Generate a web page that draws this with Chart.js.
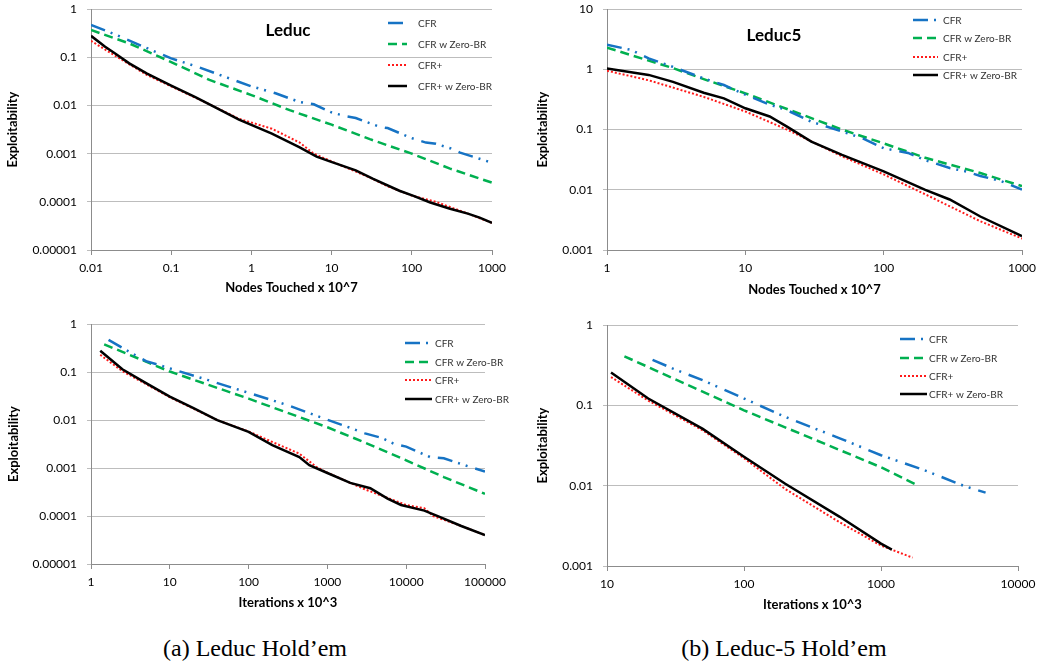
<!DOCTYPE html>
<html>
<head>
<meta charset="utf-8">
<script src="https://cdn.jsdelivr.net/npm/chart.js@4.4.0/dist/chart.umd.min.js"></script>
<style>
  html, body { margin: 0; padding: 0; background: #fff; width: 1039px; height: 665px; overflow: hidden; position: relative; }
  canvas { position: absolute; }
  .cap { position: absolute; font-family: "Liberation Serif", "Times New Roman", serif; font-size: 24px; color: #000;
         transform: translate(-50%, -50%); white-space: nowrap; }
</style>
</head>
<body>
<canvas id="tl"></canvas>
<canvas id="tr"></canvas>
<canvas id="bl"></canvas>
<canvas id="br"></canvas>
<div class="cap" style="left:255px; top:648px">(a) Leduc Hold’em</div>
<div class="cap" style="left:784px; top:648px">(b) Leduc-5 Hold’em</div>
<script>
// series names (legend order)
const seriesNames = ["CFR", "CFR w Zero-BR", "CFR+", "CFR+ w Zero-BR"];

// --- Leduc, nodes touched x 10^7 ---
const tlCfrX = [0.01, 0.02, 0.05, 0.1, 0.2, 0.5, 1, 2, 4, 6, 10, 15, 20, 40, 50, 100, 150, 200, 300, 400, 1000];
const tlCfrY = [0.47, 0.30, 0.155, 0.095, 0.066, 0.038, 0.025, 0.018, 0.0118, 0.0106, 0.0072, 0.0060, 0.0055, 0.0036, 0.0034, 0.0021, 0.0017, 0.0016, 0.0013, 0.00105, 0.00065];
const tlZbrX = [0.01, 0.03, 0.1, 0.3, 1, 3, 10, 30, 100, 300, 1000];
const tlZbrY = [0.37, 0.195, 0.08, 0.034, 0.0165, 0.008, 0.004, 0.002, 0.001, 0.00049, 0.00025];
const tlPlusX = [0.01, 0.02, 0.05, 0.1, 0.3, 0.7, 1.8, 4, 6, 10, 30, 50, 100, 200, 500, 1000];
const tlPlusY = [0.22, 0.108, 0.043, 0.025, 0.0106, 0.0053, 0.0033, 0.0017, 0.001, 0.00069, 0.00032, 0.00021, 0.000135, 0.0001, 0.000057, 0.0000365];
const tlPlusZX = [0.01, 0.015, 0.02, 0.03, 0.05, 0.1, 0.2, 0.3, 0.7, 1.8, 4, 6.5, 9.5, 20, 33, 70, 105, 170, 300, 500, 700, 1000];
const tlPlusZY = [0.28, 0.166, 0.12, 0.075, 0.046, 0.026, 0.015, 0.0106, 0.0051, 0.0026, 0.00135, 0.00087, 0.00069, 0.00045, 0.0003, 0.00017, 0.000133, 0.000097, 0.000072, 0.000057, 0.000047, 0.0000365];

// --- Leduc5, nodes touched x 10^7 ---
const trCfrX = [1, 1.5, 2, 3, 5, 7, 10, 15, 20, 30, 50, 70, 100, 150, 200, 300, 400, 500, 700, 1000];
const trCfrY = [2.57, 2.1, 1.52, 1.1, 0.71, 0.55, 0.38, 0.26, 0.21, 0.135, 0.093, 0.072, 0.049, 0.041, 0.031, 0.023, 0.020, 0.017, 0.014, 0.0101];
const trZbrX = [1, 2, 3, 5, 10, 20, 50, 100, 200, 500, 1000];
const trZbrY = [2.3, 1.4, 1.05, 0.69, 0.40, 0.22, 0.10, 0.059, 0.034, 0.019, 0.0115];
const trPlusX = [1, 2, 5, 10, 20, 50, 100, 200, 500, 1000];
const trPlusY = [0.95, 0.66, 0.35, 0.2, 0.1, 0.036, 0.018, 0.0084, 0.003, 0.00155];
const trPlusZX = [1, 2, 3, 5, 7, 10, 15, 20, 30, 50, 100, 200, 300, 500, 1000];
const trPlusZY = [1.04, 0.81, 0.62, 0.41, 0.33, 0.226, 0.165, 0.112, 0.063, 0.038, 0.0203, 0.01, 0.0069, 0.0036, 0.0017];

// --- Leduc, iterations x 10^3 ---
const blCfrX = [1.67, 3, 5, 10, 30, 100, 300, 1000, 2000, 3000, 5000, 7000, 10000, 20000, 30000, 60000, 100000];
const blCfrY = [0.47, 0.27, 0.17, 0.12, 0.069, 0.037, 0.021, 0.0102, 0.0068, 0.0053, 0.0042, 0.0032, 0.0028, 0.0017, 0.0016, 0.0011, 0.00085];
const blZbrX = [1.47, 10, 100, 1000, 3000, 10000, 30000, 100000];
const blZbrY = [0.38, 0.103, 0.028, 0.0071, 0.0034, 0.00145, 0.00065, 0.00029];
const blPlusX = [1.31, 2.5, 10, 40, 100, 200, 440, 730, 1000, 3000, 10000, 17000, 22000, 50000, 100000];
const blPlusY = [0.23, 0.105, 0.03, 0.01, 0.0058, 0.0035, 0.002, 0.00105, 0.0008, 0.00036, 0.00017, 0.000145, 0.0001, 0.000062, 0.00004];
const blPlusZX = [1.31, 2.5, 5, 10, 20, 40, 100, 200, 440, 590, 1000, 1950, 3500, 5800, 8600, 17000, 27000, 50000, 100000];
const blPlusZY = [0.28, 0.115, 0.059, 0.031, 0.0177, 0.01, 0.0057, 0.003, 0.0017, 0.00115, 0.00079, 0.00049, 0.00038, 0.00023, 0.00017, 0.00013, 0.000095, 0.000062, 0.00004];

// --- Leduc5, iterations x 10^3 ---
const brCfrX = [21.5, 30, 50, 100, 200, 500, 1000, 2000, 4000, 5800];
const brCfrY = [0.37, 0.29, 0.206, 0.122, 0.072, 0.039, 0.024, 0.016, 0.01, 0.0082];
const brZbrX = [13.4, 30, 100, 300, 1000, 1795];
const brZbrY = [0.41, 0.22, 0.087, 0.04, 0.017, 0.0104];
const brPlusX = [10.7, 20, 50, 100, 200, 500, 1000, 1700];
const brPlusY = [0.226, 0.115, 0.049, 0.022, 0.0091, 0.0035, 0.0018, 0.00127];
const brPlusZX = [10.7, 20, 50, 100, 200, 500, 1000, 1200];
const brPlusZY = [0.257, 0.122, 0.051, 0.023, 0.0106, 0.0041, 0.0019, 0.0016];

// tick values and labels
const nodesTicksA = [0.01, 0.1, 1, 10, 100, 1000];
const nodesLabelsA = ["0.01", "0.1", "1", "10", "100", "1000"];
const nodesTicksB = [1, 10, 100, 1000];
const nodesLabelsB = ["1", "10", "100", "1000"];
const itersTicksA = [1, 10, 100, 1000, 10000, 100000];
const itersLabelsA = ["1", "10", "100", "1000", "10000", "100000"];
const itersTicksB = [10, 100, 1000, 10000];
const itersLabelsB = ["10", "100", "1000", "10000"];
const exploitTicks5 = [0.00001, 0.0001, 0.001, 0.01, 0.1, 1];
const exploitLabels5 = ["0.00001", "0.0001", "0.001", "0.01", "0.1", "1"];
const exploitTicksTR = [0.001, 0.01, 0.1, 1, 10];
const exploitLabelsTR = ["0.001", "0.01", "0.1", "1", "10"];
const exploitTicksBR = [0.001, 0.01, 0.1, 1];
const exploitLabelsBR = ["0.001", "0.01", "0.1", "1"];

// line styles per series
const seriesStyle = [
  { color: "#1673c4", width: 2.5, dash: [15, 6, 2, 6, 2, 8], order: 1 },
  { color: "#00b050", width: 2.5, dash: [9, 5], order: 2 },
  { color: "#ff1a1a", width: 2, dash: [2, 2], order: 3 },
  { color: "#000000", width: 2.5, dash: [], order: 0 }
];

const FONT = "Lato, 'Open Sans', sans-serif";
// y axis width, x axis height, space Chart.js reserves above the plot (half label + tick padding), right pad
const YW = 88, XH = 50, TOPOFF = 17.2, PR = 30;

function zip(xs, ys) {
  return xs.map((x, i) => ({ x: x, y: ys[i] }));
}

// inside-the-plot legend and panel title
const panelDecor = {
  id: "panelDecor",
  afterDraw(chart, args, o) {
    const ctx = chart.ctx;
    ctx.save();
    if (o.title) {
      ctx.font = "bold 17px " + FONT;
      ctx.fillStyle = "#000";
      ctx.textAlign = "center";
      ctx.textBaseline = "middle";
      ctx.fillText(o.title, o.titleX, o.titleY);
    }
    ctx.font = "10px " + FONT;
    ctx.textAlign = "left";
    ctx.textBaseline = "middle";
    ctx.fillStyle = "#333";
    chart.data.datasets.forEach((ds, i) => {
      const y = o.legendY[i];
      ctx.beginPath();
      ctx.strokeStyle = ds.borderColor;
      ctx.lineWidth = ds.borderWidth;
      ctx.setLineDash(ds.borderDash);
      ctx.moveTo(o.legendX, y);
      ctx.lineTo(o.legendX + o.legendW, y);
      ctx.stroke();
      ctx.fillText(ds.label, o.legendTextX, y + 0.5);
    });
    ctx.restore();
  }
};

function makePanel(id, p) {
  const cv = document.getElementById(id);
  const left = p.area[0] - YW, top = Math.round(p.area[1] - TOPOFF);
  const w = p.area[2] - p.area[0] + YW + PR;
  const h = p.area[3] - top + XH;
  cv.style.left = left + "px";
  cv.style.top = top + "px";
  cv.width = w;
  cv.height = h;

  const titleLH = 13 * 1.2;
  const yTitlePad = p.yTitleX - left - titleLH / 2;
  const xTitlePad = (p.area[3] + XH) - p.xTitleY - titleLH / 2;

  const datasets = p.series.map((s, i) => ({
    label: seriesNames[i],
    data: zip(s[0], s[1]),
    borderColor: seriesStyle[i].color,
    borderWidth: seriesStyle[i].width,
    borderDash: seriesStyle[i].dash,
    order: seriesStyle[i].order,
    pointRadius: 0,
    fill: false,
    tension: 0
  }));

  new Chart(cv, {
    type: "line",
    data: { datasets: datasets },
    plugins: [panelDecor],
    options: {
      responsive: false,
      animation: false,
      devicePixelRatio: 1,
      layout: { padding: { left: 0, top: 0, right: PR, bottom: 0 } },
      plugins: {
        legend: { display: false },
        tooltip: { enabled: false },
        panelDecor: {
          title: p.title,
          titleX: p.titleAt ? p.titleAt[0] - left : 0,
          titleY: p.titleAt ? p.titleAt[1] - top : 0,
          legendX: p.legend.x - left,
          legendW: p.legend.w,
          legendTextX: p.legend.tx - left,
          legendY: p.legend.ys.map(v => v - top)
        }
      },
      scales: {
        x: {
          type: "logarithmic",
          min: p.xTicks[0],
          max: p.xTicks[p.xTicks.length - 1],
          afterBuildTicks: s => { s.ticks = p.xTicks.map(v => ({ value: v })); },
          afterFit: s => { s.height = XH; },
          ticks: {
            autoSkip: false, maxRotation: 0, padding: 6, color: "#000",
            font: { family: FONT, size: 12 },
            callback: (v, i) => p.xLabels[i]
          },
          grid: { drawOnChartArea: false, drawTicks: true, tickLength: 5, color: "#8c8c8c" },
          border: { color: "#8c8c8c" },
          title: {
            display: true, text: p.xTitle, color: "#000",
            font: { family: FONT, size: 13, weight: "bold" },
            padding: { top: 0, bottom: xTitlePad }
          }
        },
        y: {
          type: "logarithmic",
          min: p.yTicks[0],
          max: p.yTicks[p.yTicks.length - 1],
          afterBuildTicks: s => { s.ticks = p.yTicks.map(v => ({ value: v })); },
          afterFit: s => { s.width = YW; },
          ticks: {
            autoSkip: false, padding: 10, color: "#000",
            font: { family: FONT, size: 12 },
            callback: (v, i) => p.yLabels[i]
          },
          grid: { color: "#bdbdbd", tickLength: 4, drawTicks: true },
          border: { color: "#8c8c8c" },
          title: {
            display: true, text: "Exploitability", color: "#000",
            font: { family: FONT, size: 13, weight: "bold" },
            padding: { top: yTitlePad, bottom: 0 }
          }
        }
      }
    }
  });
}

makePanel("tl", {
  area: [91, 9, 492, 250], yTitleX: 13, xTitleY: 288,
  xTicks: nodesTicksA, xLabels: nodesLabelsA, yTicks: exploitTicks5, yLabels: exploitLabels5,
  xTitle: "Nodes Touched x 10^7", title: "Leduc", titleAt: [288, 31],
  legend: { x: 388, w: 19, tx: 418, ys: [23, 44, 65, 86] },
  series: [[tlCfrX, tlCfrY], [tlZbrX, tlZbrY], [tlPlusX, tlPlusY], [tlPlusZX, tlPlusZY]]
});
makePanel("tr", {
  area: [607, 9, 1022, 250], yTitleX: 543, xTitleY: 290,
  xTicks: nodesTicksB, xLabels: nodesLabelsB, yTicks: exploitTicksTR, yLabels: exploitLabelsTR,
  xTitle: "Nodes Touched x 10^7", title: "Leduc5", titleAt: [774, 36],
  legend: { x: 913, w: 25, tx: 943, ys: [20, 38, 57, 75] },
  series: [[trCfrX, trCfrY], [trZbrX, trZbrY], [trPlusX, trPlusY], [trPlusZX, trPlusZY]]
});
makePanel("bl", {
  area: [91, 324, 485, 564], yTitleX: 14, xTitleY: 603,
  xTicks: itersTicksA, xLabels: itersLabelsA, yTicks: exploitTicks5, yLabels: exploitLabels5,
  xTitle: "Iterations x 10^3", title: null,
  legend: { x: 405, w: 27, tx: 435, ys: [343, 362, 380, 399] },
  series: [[blCfrX, blCfrY], [blZbrX, blZbrY], [blPlusX, blPlusY], [blPlusZX, blPlusZY]]
});
makePanel("br", {
  area: [607, 325, 1018, 566], yTitleX: 543, xTitleY: 605,
  xTicks: itersTicksB, xLabels: itersLabelsB, yTicks: exploitTicksBR, yLabels: exploitLabelsBR,
  xTitle: "Iterations x 10^3", title: null,
  legend: { x: 900, w: 27, tx: 929, ys: [339, 358, 376, 394] },
  series: [[brCfrX, brCfrY], [brZbrX, brZbrY], [brPlusX, brPlusY], [brPlusZX, brPlusZY]]
});
</script>
</body>
</html>
